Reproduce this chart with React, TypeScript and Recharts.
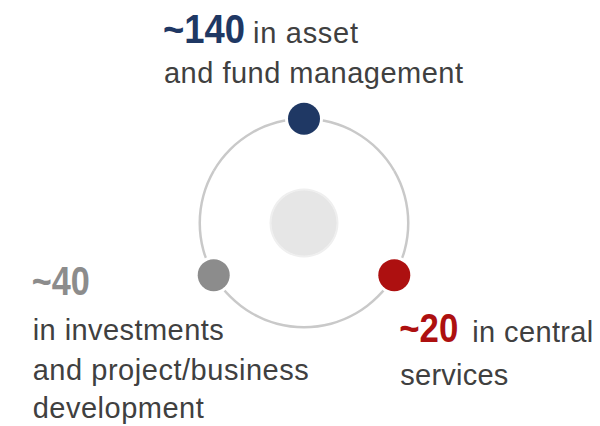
import React from 'react'
import { PieChart, Pie, Cell } from 'recharts'

// headcount by area, clockwise from the top
const groups = ['asset and fund management', 'central services', 'investments and project/business development']
const headcounts = [140, 20, 40]
const firstLines = ['in asset', 'in central', '']
const moreLines = [['and fund management'], ['services'], ['in investments', 'and project/business', 'development']]
const dotColors = ['#1f3864', '#ad1010', '#8c8c8c']

const slots = groups.map((name, i) => ({ name, headcount: headcounts[i], slot: 1 }))
const hub = [{ name: 'hub', value: 1 }]

// label placement relative to each dot
const labelLayout = [
  { dx: -141, dy: -76, numW: 82, restX: 90, restW: 105, lineDy: [40], lineW: [299] },
  { dx: 5, dy: 67, numW: 59, restX: 73, restW: 121, lineDy: [43], lineW: [108] },
  { dx: -182, dy: 20, numW: 58, restX: 0, restW: 0, lineDy: [45, 85, 123], lineW: [191, 276, 171] },
]

const RADIAN = Math.PI / 180
const font = '"Liberation Sans", Arial, sans-serif'

function DotLabel(props: any) {
  const { cx, cy, midAngle, innerRadius, outerRadius, index } = props
  const r = (innerRadius + outerRadius) / 2
  const x = cx + r * Math.cos(-midAngle * RADIAN)
  const y = cy + r * Math.sin(-midAngle * RADIAN)
  const l = labelLayout[index]
  const tx = x + l.dx
  const ty = y + l.dy
  return (
    <g>
      <circle cx={x} cy={y} r={19} fill="#fff" />
      <circle cx={x} cy={y} r={16} fill={dotColors[index]} />
      <text
        x={tx}
        y={ty}
        fontFamily={font}
        fontWeight={700}
        fontSize={41}
        fill={dotColors[index]}
        textLength={l.numW}
        lengthAdjust="spacingAndGlyphs"
      >
        {'~' + headcounts[index]}
      </text>
      {firstLines[index] && (
        <text
          x={tx + l.restX}
          y={ty}
          fontFamily={font}
          fontSize={29}
          fill="#404040"
          textLength={l.restW}
          lengthAdjust="spacing"
        >
          {firstLines[index]}
        </text>
      )}
      {moreLines[index].map((line, i) => (
        <text
          key={line}
          x={tx + 1}
          y={ty + l.lineDy[i]}
          fontFamily={font}
          fontSize={29}
          fill="#404040"
          textLength={l.lineW[i]}
          lengthAdjust="spacing"
        >
          {line}
        </text>
      ))}
    </g>
  )
}

export default function App() {
  return (
    <div style={{ position: 'absolute', left: 0, top: 0, width: 600, height: 426, background: '#fff' }}>
      <PieChart width={600} height={426} margin={{ top: 0, right: 0, bottom: 0, left: 0 }}>
        <Pie
          data={hub}
          dataKey="value"
          cx={304}
          cy={223}
          innerRadius={0}
          outerRadius={33}
          fill="#e6e6e6"
          stroke="none"
          isAnimationActive={false}
        />
        <Pie
          data={hub}
          dataKey="value"
          cx={304}
          cy={223}
          innerRadius={32.5}
          outerRadius={34.5}
          fill="#efefef"
          stroke="none"
          isAnimationActive={false}
        />
        <Pie
          data={slots}
          dataKey="slot"
          nameKey="name"
          cx={304}
          cy={223}
          startAngle={150}
          endAngle={-210}
          innerRadius={103}
          outerRadius={105.5}
          stroke="none"
          labelLine={false}
          label={DotLabel}
          isAnimationActive={false}
        >
          {slots.map((s) => (
            <Cell key={s.name} fill="#c9c9c9" />
          ))}
        </Pie>
      </PieChart>
    </div>
  )
}
